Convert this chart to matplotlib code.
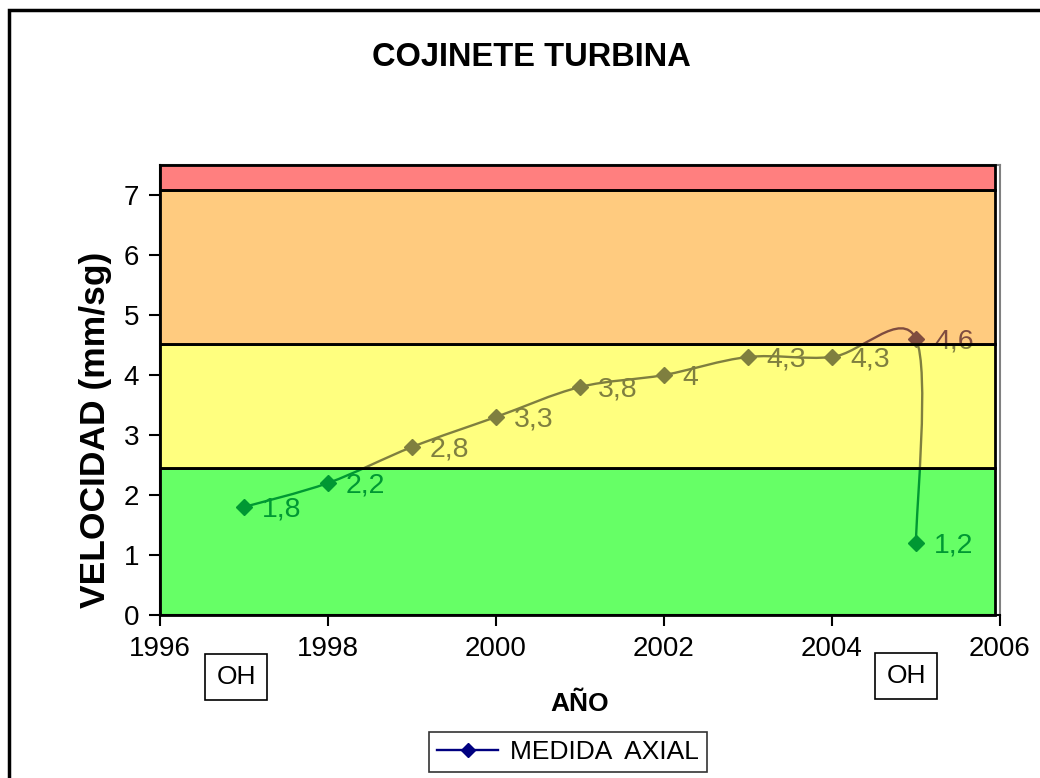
import matplotlib
matplotlib.use("Agg")
import matplotlib.pyplot as plt
import numpy as np
from matplotlib.patches import Rectangle
from matplotlib.path import Path
from matplotlib.patches import PathPatch
from matplotlib.lines import Line2D

plt.rcParams['font.family'] = ['Liberation Sans', 'DejaVu Sans']

# Measurements (year, axial velocity in mm/s)
years = [1997, 1998, 1999, 2000, 2001, 2002, 2003, 2004, 2005, 2005]
values = [1.8, 2.2, 2.8, 3.3, 3.8, 4.0, 4.3, 4.3, 4.6, 1.2]
value_labels = ["1,8", "2,2", "2,8", "3,3", "3,8", "4", "4,3", "4,3", "4,6", "1,2"]

# Severity zones (lower, upper, colour, opacity)
zone_limits = [0.0, 2.45, 4.52, 7.08, 7.5]
zone_colors = [(0.0, 1.0, 0.0), (1.0, 1.0, 0.0), (1.0, 0.6, 0.0), (1.0, 0.0, 0.0)]
zone_alpha = [0.6, 0.5, 0.5, 0.5]
zone_x_end = 2005.94

x_ticks = [1996, 1998, 2000, 2002, 2004, 2006]
y_ticks = [0, 1, 2, 3, 4, 5, 6, 7]

navy = (0, 0, 0.5)

fig = plt.figure(figsize=(10.4, 7.78), dpi=100)
ax = fig.add_axes([160/1040, 1-615/778, 840/1040, 450/778])
ax.set_xlim(1996, 2006)
ax.set_ylim(0, 7.5)

# Smoothed series line (Catmull-Rom style Bezier segments)
pts = np.column_stack([years, values]).astype(float)
n = len(pts)
verts = [pts[0]]
codes = [Path.MOVETO]
for i in range(n - 1):
    p_prev = pts[i - 1] if i > 0 else pts[i]
    p0 = pts[i]
    p1 = pts[i + 1]
    p_next = pts[i + 2] if i + 2 < n else pts[i + 1]
    c1 = p0 + (p1 - p_prev) / 6.0
    c2 = p1 - (p_next - p0) / 6.0
    verts += [c1, c2, p1]
    codes += [Path.CURVE4] * 3
ax.add_patch(PathPatch(Path(verts, codes), facecolor='none', edgecolor=navy,
                       lw=1.7, zorder=2))
ax.plot(years, values, linestyle='none', marker='D', markersize=8.5,
        color=navy, zorder=2.5)

for x, y, lab in zip(years, values, value_labels):
    ax.annotate(lab, (x, y), xytext=(13, -2), textcoords='offset points',
                ha='left', va='center', fontsize=20.5, color=navy, zorder=2.6)

# Severity zones drawn over the series
for lo, hi, c, a in zip(zone_limits[:-1], zone_limits[1:], zone_colors, zone_alpha):
    ax.add_patch(Rectangle((1996, lo), zone_x_end - 1996, hi - lo,
                           facecolor=(*c, a), edgecolor='black', lw=2,
                           zorder=4, clip_on=False))

ax.set_xticks(x_ticks)
ax.set_yticks(y_ticks)
ax.tick_params(axis='both', direction='out', length=8, width=1.5,
               labelsize=20, pad=7, color='black')
for side in ['left', 'bottom']:
    ax.spines[side].set_color('black')
    ax.spines[side].set_linewidth(1.5)
for side in ['top', 'right']:
    ax.spines[side].set_color('#808080')
    ax.spines[side].set_linewidth(1.5)
ax.spines['left'].set_zorder(5)
ax.spines['bottom'].set_zorder(5)

ax.set_xlabel('AÑO', fontsize=19, fontweight='bold', labelpad=22)
fig.text(96/1040, 1-430/778, 'VELOCIDAD (mm/sg)', rotation=90,
         ha='center', va='center', fontsize=25.5, fontweight='bold')

fig.text(531/1040, 1-58/778, 'COJINETE TURBINA', ha='center', va='center',
         fontsize=23.5, fontweight='bold')

# "OH" markers below the axis
for cx, cy in [(236, 677), (906, 676)]:
    fig.text(cx/1040, 1-cy/778, 'OH', ha='center', va='center', fontsize=19,
             bbox=dict(boxstyle='square,pad=0.42', facecolor='white',
                       edgecolor='black', lw=1.2))

# Legend
handle = Line2D([], [], color=navy, marker='D', markersize=7.5, lw=1.7)
leg = fig.legend([handle], ['MEDIDA  AXIAL'], loc='center',
                 bbox_to_anchor=(568/1040, 1-752/778), fontsize=19,
                 frameon=True, fancybox=False, edgecolor='black',
                 handlelength=2.3, borderpad=0.3, handletextpad=0.45)
leg.get_frame().set_linewidth(1.2)

# Outer chart frame
fig.patches.append(Rectangle((9/1040, -0.2), 1.2, 1.2 - 10/778,
                             transform=fig.transFigure, facecolor='none',
                             edgecolor='black', lw=2.5, clip_on=False))

fig.savefig('out.png', dpi=100)
